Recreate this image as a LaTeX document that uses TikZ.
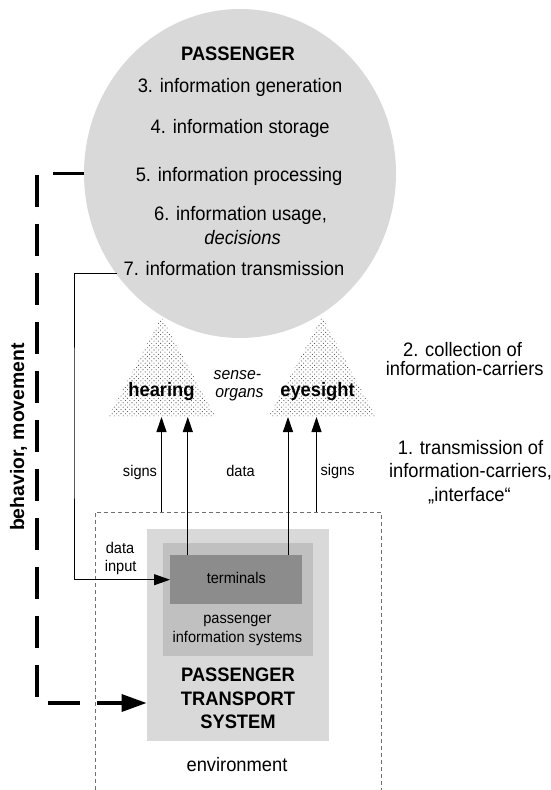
\documentclass[tikz,border=0pt]{standalone}
\usepackage{fontspec}
\setmainfont[FakeStretch=0.94]{Liberation Sans}
\usetikzlibrary{arrows.meta,patterns,shapes.geometric}

\definecolor{paleGray}{HTML}{D9D9D9}
\definecolor{midGray}{HTML}{C0C0C0}
\definecolor{darkGray}{HTML}{8C8C8C}
\definecolor{envGray}{HTML}{707070}

\newcommand\txtbig{\fontsize{19.5}{23}\selectfont}
\newcommand\txtmid{\fontsize{16.8}{19}\selectfont}
\newcommand\txtsml{\fontsize{15.5}{18}\selectfont}

% staggered dot raster for the sense organs
\pgfdeclarepatternformonly{organdots}{\pgfqpoint{-0.6pt}{-0.6pt}}{\pgfqpoint{2.8pt}{2.8pt}}{\pgfqpoint{4.4pt}{4.4pt}}{%
  \pgfpathcircle{\pgfqpoint{0pt}{0pt}}{0.55pt}%
  \pgfpathcircle{\pgfqpoint{2.2pt}{2.2pt}}{0.55pt}%
  \pgfusepath{fill}}

\begin{document}
\begin{tikzpicture}[x=1pt,y=-1pt,
  lbl/.style={inner sep=0pt, anchor=base, font=\txtbig},
  blbl/.style={inner sep=0pt, anchor=base, font=\txtbig\bfseries},
  ilbl/.style={inner sep=0pt, anchor=base, font=\txtbig\itshape},
  slbl/.style={inner sep=0pt, anchor=base, font=\txtsml},
  milbl/.style={inner sep=0pt, anchor=base, font=\txtmid\itshape},
  sig/.style={line width=0.9pt, -{Triangle[length=15pt,width=10pt]}},
  organ/.style={pattern=organdots, pattern color=black!70},
  panel/.style={inner sep=0pt, anchor=north west},
  envline/.style={envGray, line width=0.7pt, dash pattern=on 4pt off 3pt},
  behav/.style={line width=3.5pt, dash pattern=on 32pt off 17pt, dash phase=1pt,
                -{Triangle[length=25pt,width=17pt]}}
]
\useasboundingbox (0,0) rectangle (551,790);

% passenger
\node[ellipse, fill=paleGray, inner sep=0pt,
      minimum width=312pt, minimum height=329pt] (pass) at (240,173.5) {};
\node[blbl] (pTitle) at (238,60)    {PASSENGER};
\node[lbl]  (p3)     at (240,92)    {3. information generation};
\node[lbl]  (p4)     at (240.2,133.5) {4. information storage};
\node[lbl]  (p5)     at (239,181)   {5. information processing};
\node[lbl]  (p6)     at (240.5,220.5) {6. information usage,};
\node[ilbl] (p6b)    at (242.6,244.5) {decisions};
\node[lbl]  (p7)     at (234,275.6) {7. information transmission};

% sense organs
\path[organ] (108.7,416) -- (161.5,317) -- (215,416) -- cycle;
\path[organ] (269,416) -- (322,317) -- (375.6,416) -- cycle;
\node[blbl]  (hear) at (161.5,396.7) {hearing};
\node[blbl]  (eye)  at (317.5,396)   {eyesight};
\node[milbl] (so1)  at (237.4,379.5) {sense-};
\node[milbl] (so2)  at (239.5,397)   {organs};

\coordinate (hA) at (161.5,417);
\coordinate (hB) at (187.8,417);
\coordinate (eA) at (288,417);
\coordinate (eB) at (316.5,417);

% right-hand captions
\node[lbl] (c2a) at (462.6,356)   {2. collection of};
\node[lbl] (c2b) at (464.7,375)   {information-carriers};
\node[lbl] (c1a) at (470.5,454)   {1. transmission of};
\node[lbl] (c1b) at (470.5,477.7) {information-carriers,};
\node[lbl] (c1c) at (469.5,501.7) {„interface“};

% environment and transport system
\coordinate (envTop) at (95,512);
\draw[envline] (95,790) -- (envTop) -- (381,512) -- (381,790);

\node[panel, fill=paleGray, minimum width=182.4pt, minimum height=212pt] (pts) at (146.6,529) {};
\node[panel, fill=midGray,  minimum width=150.5pt, minimum height=113pt] (pis) at (162.5,543) {};
\node[panel, fill=darkGray, minimum width=131.7pt, minimum height=49pt]  (term) at (170,555) {};

\node[slbl] (termTxt) at (236.3,583.3) {terminals};
\node[slbl] (pis1) at (237.4,623) {passenger};
\node[slbl] (pis2) at (237.4,642) {information systems};
\node[blbl] (pts1) at (238,681.7) {PASSENGER};
\node[blbl] (pts2) at (238,705)   {TRANSPORT};
\node[blbl] (pts3) at (238,728.3) {SYSTEM};
\node[lbl]  (env)  at (237,771.7) {environment};

% signals towards the sense organs
\draw[sig] (hA |- envTop) -- (hA);
\draw[sig] (hB |- term.north) -- (hB);
\draw[sig] (eA |- term.north) -- (eA);
\draw[sig] (eB |- envTop) -- (eB);
\node[slbl] (s1) at (140,476.7)   {signs};
\node[slbl] (s2) at (240.5,476.7) {data};
\node[slbl] (s3) at (337.6,475)   {signs};

% data input back to the terminals
\coordinate (fb) at (74,420);
\draw[line width=0.9pt, -{Triangle[length=16pt,width=11pt]}]
  ([xshift=-6pt,yshift=2.5pt]p7.base west) -| (fb) |- (term.west);
\node[slbl] (di1) at (120,553.3) {data};
\node[slbl] (di2) at (120.7,571.7) {input};

% behaviour feedback
\coordinate (bh1) at (37,173.5);
\coordinate (bh2) at (37,703);
\draw[behav] (pass.west) -- (bh1) -- (bh2) -- (pts.west |- bh2);
\node[inner sep=0pt, anchor=base, rotate=90, font=\txtbig\bfseries] (beh) at (24,437)
  {\scalebox{1.06}[1]{behavior, movement}};
\end{tikzpicture}
\end{document}
